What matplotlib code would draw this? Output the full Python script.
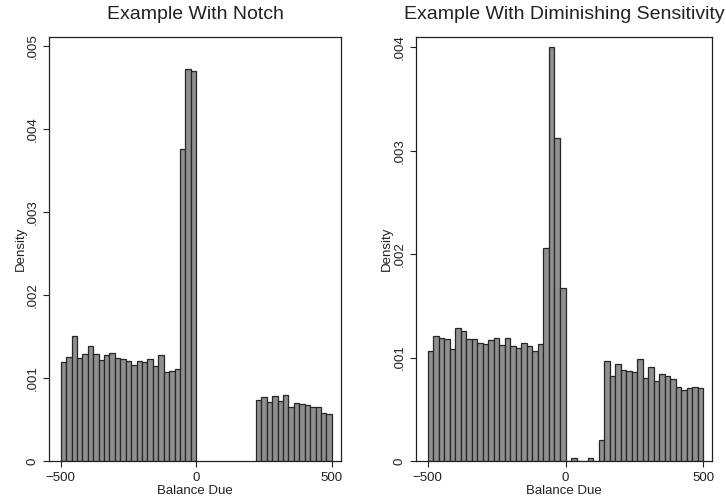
import numpy as np
import matplotlib.pyplot as plt
from matplotlib.ticker import FixedLocator, FuncFormatter

plt.rcParams['font.family'] = ['Liberation Sans', 'DejaVu Sans']

BIN = 20

# notch example: mass below zero, nothing between 0 and 220
notch_lo_start = np.arange(-500, 0, BIN)
notch_lo = [1.197, 1.249, 1.506, 1.237, 1.293, 1.390, 1.285, 1.217, 1.277,
            1.305, 1.237, 1.229, 1.209, 1.153, 1.201, 1.193, 1.225, 1.141,
            1.277, 1.068, 1.084, 1.108, 3.755, 4.720, 4.700]
notch_hi_start = np.arange(220, 500, BIN)
notch_hi = [0.731, 0.767, 0.715, 0.779, 0.723, 0.799, 0.651, 0.695, 0.691,
            0.671, 0.651, 0.655, 0.574, 0.566]

# diminishing sensitivity example, full range
dim_start = np.arange(-500, 500, BIN)
dim = [1.066, 1.211, 1.185, 1.176, 1.082, 1.282, 1.256, 1.176, 1.176, 1.140,
       1.134, 1.166, 1.188, 1.124, 1.188, 1.111, 1.089, 1.137, 1.114, 1.060,
       1.127, 2.055, 4.003, 3.127, 1.675,
       0.0, 0.032, 0.0, 0.004, 0.032, 0.0, 0.205,
       0.963, 0.824, 0.940, 0.882, 0.870, 0.857, 0.989, 0.802, 0.911, 0.770,
       0.841, 0.818, 0.792, 0.712, 0.689, 0.705, 0.715, 0.702]

fig = plt.figure(figsize=(7.26, 4.99), dpi=100)
ax1 = fig.add_axes([0.0675, 0.0762, 0.4022, 0.8497])
ax2 = fig.add_axes([0.5726, 0.0762, 0.4081, 0.8497])


def stata_fmt(v, pos):
    if abs(v) < 1e-12:
        return '0'
    return ('%.3f' % v).lstrip('0')


def style(ax, title, yticks, ylim, xlim):
    ax.set_title(title, fontsize=14, color='#222222', pad=13)
    ax.set_xlim(*xlim)
    ax.set_ylim(0, ylim)
    ax.xaxis.set_major_locator(FixedLocator([-500, 0, 500]))
    ax.yaxis.set_major_locator(FixedLocator(yticks))
    ax.yaxis.set_major_formatter(FuncFormatter(stata_fmt))
    ax.xaxis.set_major_formatter(FuncFormatter(lambda v, p: '\u2212500' if v < 0 else '%d' % v))
    ax.tick_params(axis='both', direction='out', length=4.5, width=0.8,
                   labelsize=9.5, colors='#222222')
    ax.tick_params(axis='y', labelrotation=90, pad=3)
    for lab in ax.get_yticklabels():
        lab.set_va('center')
    ax.set_xlabel('Balance Due', fontsize=9.5, color='#222222', labelpad=1)
    ax.set_ylabel('Density', fontsize=9.5, color='#222222', labelpad=0)
    for sp in ax.spines.values():
        sp.set_color('#222222')
        sp.set_linewidth(0.9)


bar_kw = dict(width=BIN, align='edge', color='#8f8f8f', edgecolor='#262626', linewidth=0.9)

ax1.bar(notch_lo_start, np.array(notch_lo) / 1000, **bar_kw)
ax1.bar(notch_hi_start, np.array(notch_hi) / 1000, **bar_kw)
style(ax1, 'Example With Notch', [0, .001, .002, .003, .004, .005], 0.00511, (-543, 534))

ax2.bar(dim_start, np.array(dim) / 1000, **bar_kw)
style(ax2, 'Example With Diminishing Sensitivity', [0, .001, .002, .003, .004], 0.0041, (-543.5, 531.5))

fig.savefig('out.png', dpi=100)
